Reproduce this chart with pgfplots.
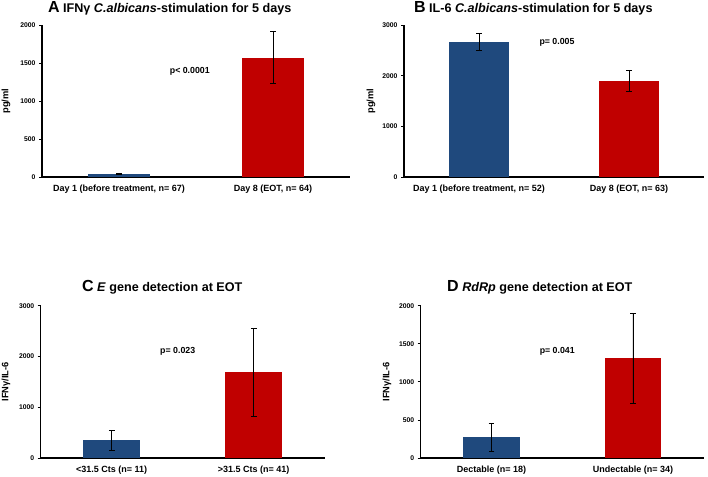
\documentclass[border=0pt]{standalone}
\usepackage{pgfplots}
\pgfplotsset{compat=1.18}
\usepackage{fontspec}
\setmainfont{Liberation Sans}
\definecolor{barblue}{RGB}{31,73,125}
\definecolor{barred}{RGB}{192,0,0}
\tikzset{ptext/.style={font=\fontsize{8.8}{10}\selectfont\bfseries}}
\pgfplotsset{
  panel/.style={
    scale only axis,
    anchor=south west,
    xmin=0, xmax=4, ymin=0,
    axis lines=left,
    axis line style={-, line width=1.3pt, black},
    xtick={1,3},
    x tick style={draw=none},
    y tick style={black, line width=0.8pt},
    tick align=outside,
    major tick length=3pt,
    ybar, bar width=0.8, bar shift=0pt,
    tick label style={font=\bfseries},
    yticklabel style={font=\fontsize{6.8}{8}\selectfont\bfseries},
    xticklabel style={font=\fontsize{9}{10}\selectfont\bfseries, yshift=-1pt},
    ylabel style={font=\fontsize{9.3}{10}\selectfont\bfseries, anchor=center},
    /pgf/number format/assume math mode=true,
    scaled y ticks=false,
    yticklabel={\pgfmathprintnumber[fixed,1000 sep={}]{\tick}},
    title style={anchor=base west, font=\fontsize{12.6}{14}\selectfont\bfseries, inner sep=0pt},
    error bars/y dir=both, error bars/y explicit,
    error bars/error bar style={black, line width=0.6pt},
    error bars/error mark options={rotate=90, mark size=2.8pt, line width=0.6pt, black},
  },
}
\begin{document}
\begin{tikzpicture}
\useasboundingbox (0,0) rectangle (708pt,476pt);
% Panel A
\begin{axis}[panel, at={(42pt,299pt)}, width=308pt, height=152pt,
  ymax=2000, ytick={0,500,1000,1500,2000},
  xticklabels={Day 1 (before treatment{,} n= 67), Day 8 (EOT{,} n= 64)},
  ylabel={pg/ml}, ylabel style={at={(axis description cs:-0.117,0.5)}},
  title={{\fontsize{16}{16}\selectfont A} IFNγ \textit{C.albicans}-stimulation for 5 days},
  title style={at={(axis description cs:0.019,1)}, yshift=6pt}]
\addplot[fill=barblue, draw=none] coordinates {(1,45) +- (0,10)};
\addplot[fill=barred, draw=none] coordinates {(3,1572) +- (0,340)};
\node[ptext] at (axis cs:1.92,1395) {p< 0.0001};
\end{axis}
% Panel B
\begin{axis}[panel, at={(404pt,299pt)}, width=300pt, height=152pt,
  ymax=3000, ytick={0,1000,2000,3000},
  xticklabels={Day 1 (before treatment{,} n= 52), Day 8 (EOT{,} n= 63)},
  ylabel={pg/ml}, ylabel style={at={(axis description cs:-0.11,0.5)}},
  title={{\fontsize{16}{16}\selectfont B} IL-6 \textit{C.albicans}-stimulation for 5 days},
  title style={at={(axis description cs:0.033,1)}, yshift=6pt}]
\addplot[fill=barblue, draw=none] coordinates {(1,2670) +- (0,165)};
\addplot[fill=barred, draw=none] coordinates {(3,1900) +- (0,205)};
\node[ptext] at (axis cs:2.04,2664) {p= 0.005};
\end{axis}
% Panel C
\begin{axis}[panel, at={(40.7pt,18pt)}, width=284pt, height=152.3pt,
  ymax=3000, ytick={0,1000,2000,3000},
  xticklabels={<31.5 Cts (n= 11), >31.5 Cts (n= 41)},
  ylabel={IFNγ/IL-6}, ylabel style={at={(axis description cs:-0.122,0.5)}},
  title={{\fontsize{16}{16}\selectfont C} \textit{E} gene detection at EOT},
  title style={at={(axis description cs:0.145,1)}, yshift=8pt}]
\addplot[fill=barblue, draw=none] coordinates {(1,345) +- (0,193)};
\addplot[fill=barred, draw=none] coordinates {(3,1688) +- (0,870)};
\node[ptext] at (axis cs:1.93,2108) {p= 0.023};
\end{axis}
% Panel D
\begin{axis}[panel, at={(420.7pt,18pt)}, width=283pt, height=152.3pt,
  ymax=2000, ytick={0,500,1000,1500,2000},
  xticklabels={Dectable (n= 18), Undectable (n= 34)},
  ylabel={IFNγ/IL-6}, ylabel style={at={(axis description cs:-0.119,0.5)}},
  title={{\fontsize{16}{16}\selectfont D} \textit{RdRp} gene detection at EOT},
  title style={at={(axis description cs:0.093,1)}, yshift=8pt}]
\addplot[fill=barblue, draw=none] coordinates {(1,270) +- (0,180)};
\addplot[fill=barred, draw=none] coordinates {(3,1310) +- (0,595)};
\node[ptext] at (axis cs:1.93,1405) {p= 0.041};
\end{axis}
\end{tikzpicture}
\end{document}
